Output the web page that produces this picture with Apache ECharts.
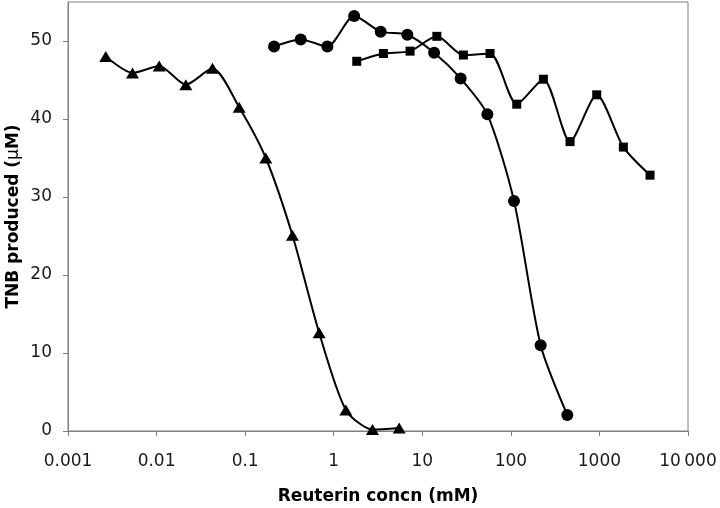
<!DOCTYPE html>
<html>
<head>
<meta charset="utf-8">
<script src="https://cdn.jsdelivr.net/npm/echarts@6/dist/echarts.min.js"></script>
<style>
html, body { margin: 0; padding: 0; background: #fff; }
#divChart { width: 720px; height: 508px; }
</style>
</head>
<body>
<div id="divChart"></div>
<script>
// reuterin concentration (mM), two-fold dilutions
var triX = [0.00267, 0.00535, 0.0107, 0.0214, 0.0428, 0.0856, 0.171, 0.342, 0.685, 1.37, 2.74, 5.48];
var triY = [48.0, 45.9, 46.8, 44.4, 46.5, 41.5, 35.0, 25.1, 12.6, 2.7, 0.2, 0.4];

var circX = [0.212, 0.424, 0.848, 1.70, 3.39, 6.78, 13.6, 27.1, 54.3, 108.5, 217, 434];
var circY = [49.3, 50.2, 49.3, 53.2, 51.2, 50.8, 48.5, 45.2, 40.6, 29.5, 11.0, 2.05];

var sqX = [1.82, 3.64, 7.28, 14.6, 29.1, 58.2, 116.5, 233, 466, 932, 1864, 3728];
var sqY = [47.4, 48.4, 48.7, 50.6, 48.2, 48.4, 41.9, 45.1, 37.1, 43.1, 36.4, 32.8];

var xTickLabels = ['0.001', '0.01', '0.1', '1', '10', '100', '1000', '10\u2009000'];
var yTicks = [0, 10, 20, 30, 40, 50];

var myChart = echarts.init(document.getElementById('divChart'));

function pairs(xs, ys) {
    var out = [];
    for (var i = 0; i < xs.length; i++) {
        out.push([xs[i], ys[i]]);
    }
    return out;
}

function makeSeries(name, xs, ys, symbol, size) {
    return {
        name: name,
        type: 'line',
        data: pairs(xs, ys),
        smooth: 0.25,
        symbol: symbol,
        symbolSize: size,
        showAllSymbol: true,
        lineStyle: { color: '#000', width: 2 },
        itemStyle: { color: '#000' },
        z: 3
    };
}

var axisColor = '#7f7f7f';
var font = 'DejaVu Sans';

var option = {
    animation: false,
    grid: {
        left: 68, right: 32, top: 2, bottom: 77,
        outerBoundsMode: 'none',
        containLabel: false,
        show: true, borderColor: axisColor, borderWidth: 1
    },
    xAxis: {
        type: 'log',
        logBase: 10,
        min: 0.001,
        max: 10000,
        name: 'Reuterin concn (mM)',
        nameLocation: 'middle',
        nameGap: 57,
        nameMoveOverlap: false,
        nameTextStyle: { fontFamily: font, fontSize: 17, fontWeight: 'bold', color: '#000' },
        axisLine: { lineStyle: { color: axisColor, width: 1 } },
        axisTick: { show: true, length: 5, lineStyle: { color: axisColor } },
        minorTick: { show: false },
        splitLine: { show: false },
        axisLabel: {
            margin: 22,
            fontFamily: font, fontSize: 17, color: '#1a1a1a',
            formatter: function (v) {
                return xTickLabels[Math.round(Math.log10(v)) + 3];
            }
        }
    },
    yAxis: {
        type: 'value',
        min: 0,
        max: 55,
        interval: 10,
        name: '{b|TNB produced (}{m|\u03bc}{b|M)}',
        nameLocation: 'middle',
        nameGap: 46,
        nameMoveOverlap: false,
        nameTextStyle: {
            rich: {
                b: { fontFamily: font, fontSize: 17, fontWeight: 'bold', color: '#000' },
                m: { fontFamily: font, fontSize: 17, color: '#000' }
            }
        },
        axisLine: { show: true, lineStyle: { color: axisColor, width: 1 } },
        axisTick: { show: true, length: 5, customValues: yTicks, lineStyle: { color: axisColor } },
        splitLine: { show: false },
        axisLabel: {
            margin: 16,
            customValues: yTicks,
            fontFamily: font, fontSize: 17, color: '#1a1a1a'
        }
    },
    series: [
        makeSeries('triangle', triX, triY, 'triangle', [13, 11]),
        makeSeries('circle', circX, circY, 'circle', 12),
        makeSeries('square', sqX, sqY, 'rect', 9)
    ]
};

myChart.setOption(option);
</script>
</body>
</html>
